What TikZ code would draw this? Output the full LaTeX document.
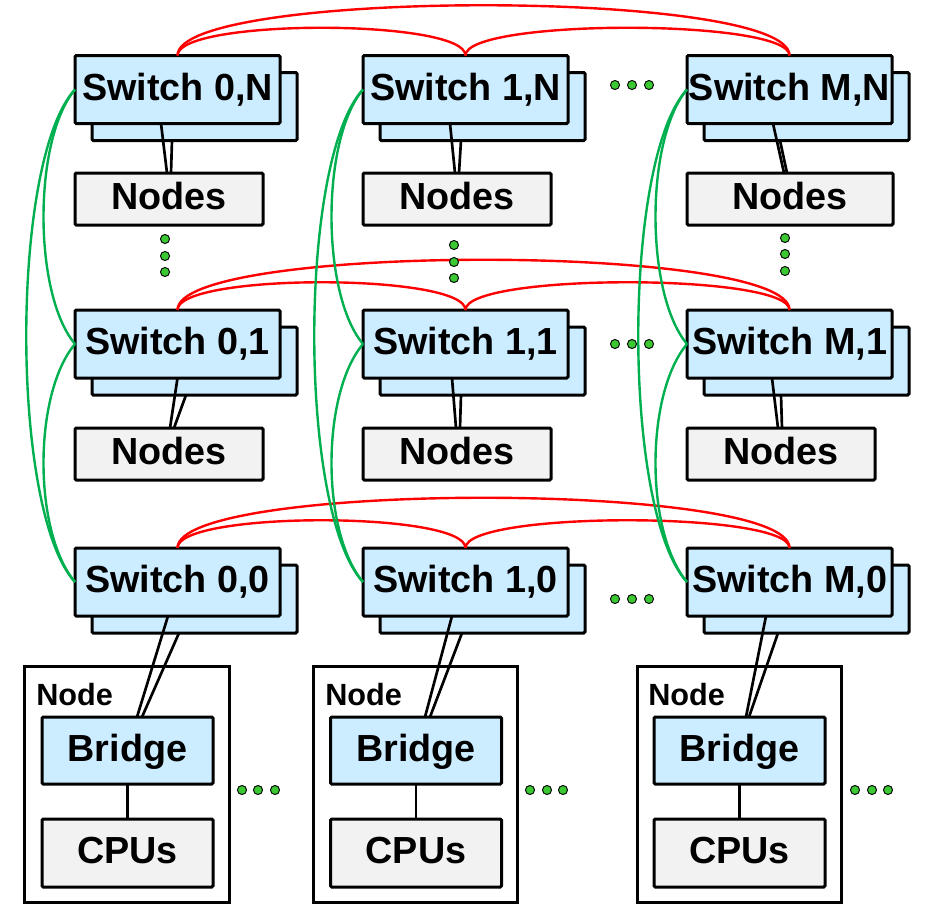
\documentclass[tikz,border=0pt]{standalone}
\usepackage{fontspec}
\setmainfont{Liberation Sans}
\usetikzlibrary{calc}
\definecolor{swblue}{RGB}{204,236,255}
\definecolor{grayfill}{RGB}{242,242,242}
\definecolor{linkgreen}{RGB}{0,176,80}
\definecolor{linkred}{RGB}{255,0,0}
\definecolor{dotgreen}{RGB}{60,200,50}
\begin{document}
\begin{tikzpicture}[x=0.75pt,y=-0.75pt,
  box/.style={draw=black, line width=2.25pt, rounded corners=1pt, outer sep=0pt, inner sep=0pt,
    font=\fontsize{28.3}{30}\selectfont\bfseries, text height=20pt, text depth=4pt},
  switchbox/.style={box, fill=swblue, minimum width=153.75pt, minimum height=51pt},
  nodesbox/.style={box, fill=grayfill, minimum width=141pt, minimum height=39pt},
  host/.style={draw=black, line width=2.25pt, fill=white, outer sep=0pt, inner sep=0pt,
    minimum width=153pt, minimum height=177pt},
  bridgebox/.style={box, fill=swblue, minimum width=128.25pt, minimum height=50.25pt},
  cpubox/.style={box, fill=grayfill, minimum width=128.25pt, minimum height=51pt},
  hostlabel/.style={anchor=base west, inner sep=0pt, font=\fontsize{23}{25}\selectfont\bfseries},
  wire/.style={line width=2pt, black},
  hlink/.style={linkred, line width=1.8pt},
  vlink/.style={linkgreen, line width=1.8pt},
  gdot/.style={fill=dotgreen, draw=black, line width=0.7pt}
]
\useasboundingbox (0,0) rectangle (925,904);
\fill[white] (0,0) rectangle (925,904);

% ---- switches: a back copy and the front box ----
\foreach \nm/\x/\y/\lab in {0N/177.5/89.5/{Switch 0,N}, 1N/465.5/89.5/{Switch 1,N}, MN/789.5/89.5/{Switch M,N},
                            01/177.5/344/{Switch 0,1}, 11/465.5/344/{Switch 1,1}, M1/789.5/344/{Switch M,1},
                            00/177.5/582/{Switch 0,0}, 10/465.5/582/{Switch 1,0}, M0/789.5/582/{Switch M,0}}{
  \node[switchbox] (b\nm) at (\x+17,\y+17) {};
  \node[switchbox] (s\nm) at (\x,\y) {\lab};
}

% ---- node groups hanging off the upper rows ----
\node[nodesbox] (n0N) at (169,199) {Nodes};
\node[nodesbox] (n1N) at (457,199) {Nodes};
\node[nodesbox, minimum width=154.5pt] (nMN) at (790,199) {Nodes};
\node[nodesbox] (n01) at (169,454) {Nodes};
\node[nodesbox] (n11) at (457,454) {Nodes};
\node[nodesbox] (nM1) at (781,454) {Nodes};

% ---- host nodes on the bottom row ----
\node[host, minimum width=153.75pt] (k0) at (126.5,784) {};
\node[host] (k1) at (415,784) {};
\node[host] (kM) at (739,784) {};
\node[hostlabel] (l0) at (36,705) {Node};
\node[hostlabel] (l1) at (325,705) {Node};
\node[hostlabel] (lM) at (648,705) {Node};
\node[bridgebox] (g0) at (127.5,750.5) {Bridge};
\node[bridgebox] (g1) at (416,750.5) {Bridge};
\node[bridgebox] (gM) at (739.5,750.5) {Bridge};
\node[cpubox] (c0) at (127.5,853) {CPUs};
\node[cpubox] (c1) at (416,853) {CPUs};
\node[cpubox] (cM) at (739.5,853) {CPUs};
\draw[wire] (g0.south) -- (c0.north);
\draw[wire] (g1.south) -- (c1.north);
\draw[wire] (gM.south) -- (cM.north);

% ---- double links from each switch pair down to its nodes ----
\draw[wire] ($(s0N.south)+(-16.5,0)$) -- ($(n0N.north)+(-2,0)$);
\draw[wire] ($(b0N.south)+(-22.5,0)$) -- ($(n0N.north)+(2,0)$);
\draw[wire] ($(s1N.south)+(-15.5,0)$) -- ($(n1N.north)+(-2,0)$);
\draw[wire] ($(b1N.south)+(-21.5,0)$) -- ($(n1N.north)+(2,0)$);
\draw[wire] ($(sMN.south)+(-16.5,0)$) -- ($(nMN.north)+(-6,0)$);
\draw[wire] ($(bMN.south)+(-26.5,0)$) -- ($(nMN.north)+(-3,0)$);
\draw[wire] ($(s01.south)+(0,0)$) -- ($(n01.north)+(1,0)$);
\draw[wire] ($(b01.south)+(-8.5,0)$) -- ($(n01.north)+(5,0)$);
\draw[wire] ($(s11.south)+(-13.5,0)$) -- ($(n11.north)+(-1,0)$);
\draw[wire] ($(b11.south)+(-21.5,0)$) -- ($(n11.north)+(3,0)$);
\draw[wire] ($(sM1.south)+(-17.5,0)$) -- ($(nM1.north)+(-3,0)$);
\draw[wire] ($(bM1.south)+(-25.5,0)$) -- ($(nM1.north)+(1,0)$);
\draw[wire] ($(s00.south)+(-9.5,0)$) -- ($(g0.north)+(9.5,0)$);
\draw[wire] ($(b00.south)+(-15.5,0)$) -- ($(g0.north)+(14.5,0)$);
\draw[wire] ($(s10.south)+(-13.5,0)$) -- ($(g1.north)+(9,0)$);
\draw[wire] ($(b10.south)+(-20.5,0)$) -- ($(g1.north)+(14,0)$);
\draw[wire] ($(sM0.south)+(-23.5,0)$) -- ($(gM.north)+(6.5,0)$);
\draw[wire] ($(bM0.south)+(-28.5,0)$) -- ($(gM.north)+(9.5,0)$);

% ---- row links (red) over the tops of the switches ----
\foreach \r in {N,1,0}{
  \draw[hlink] (s0\r.north) .. controls +(0,-37) and +(0,-37) .. (s1\r.north);
  \draw[hlink] (s1\r.north) .. controls +(0,-37) and +(0,-37) .. (sM\r.north);
  \draw[hlink] (s0\r.north) .. controls +(0,-67) and +(0,-67) .. (sM\r.north);
}

% ---- column links (green) along the left sides ----
\foreach \c in {0,1,M}{
  \draw[vlink] (s\c N.west) .. controls +(-42,50) and +(-42,-50) .. (s\c 1.west);
  \draw[vlink] (s\c 1.west) .. controls +(-42,50) and +(-42,-50) .. (s\c 0.west);
  \draw[vlink] (s\c N.west) .. controls +(-65,70) and +(-65,-70) .. (s\c 0.west);
}

% ---- ellipsis dots ----
\foreach \y in {85,344,599}{
  \foreach \x in {615,632,649} \filldraw[gdot] (\x,\y) circle[radius=3.4pt];
}
\foreach \y in {239,256,272} \filldraw[gdot] (165,\y) circle[radius=3.4pt];
\foreach \y in {245,262,278} \filldraw[gdot] (454,\y) circle[radius=3.4pt];
\foreach \y in {238,254,271} \filldraw[gdot] (785,\y) circle[radius=3.4pt];
\foreach \x in {242,258,275,530,547,563,855,872,888} \filldraw[gdot] (\x,790) circle[radius=3.4pt];
\end{tikzpicture}
\end{document}
